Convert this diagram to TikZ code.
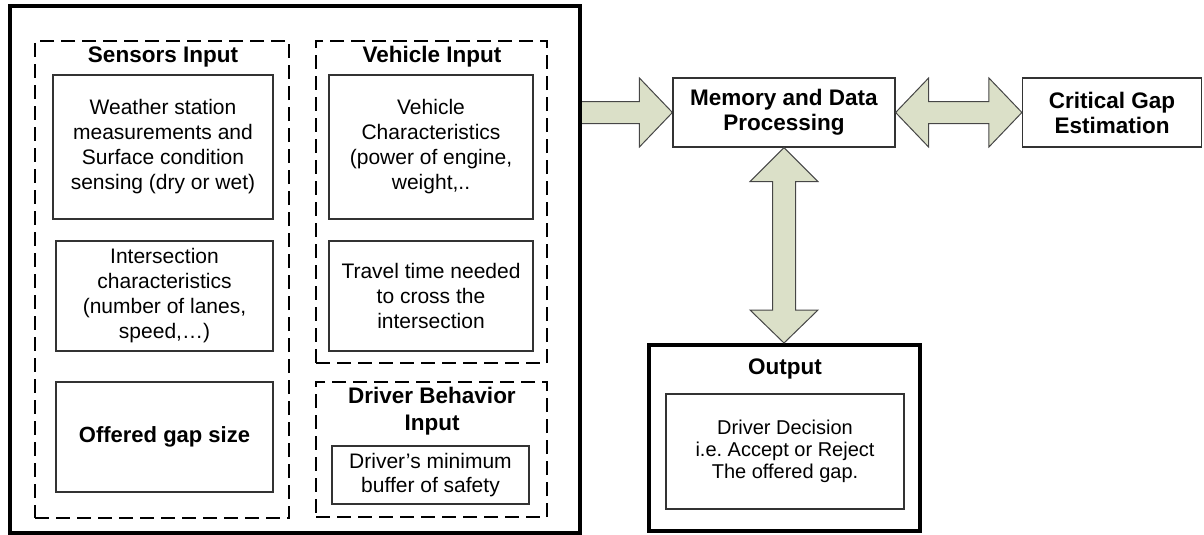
\documentclass[tikz,border=0pt]{standalone}
\usepackage{fontspec}
\setmainfont{Liberation Sans}
\usetikzlibrary{calc,backgrounds}
\definecolor{arrowfill}{RGB}{219,224,200}
\definecolor{arrowline}{RGB}{70,70,70}
\frenchspacing
\begin{document}
\begin{tikzpicture}[x=1pt,y=-1pt,
  thinbox/.style={draw=black!80, line width=1.2pt, inner sep=0pt, align=center, font=\fontsize{21}{25}\selectfont},
  thickbox/.style={draw=black, line width=4pt, inner sep=0pt},
  dashbox/.style={draw=black, line width=2.7pt, dash pattern=on 14pt off 7pt, inner sep=0pt},
  titletext/.style={font=\bfseries\fontsize{22.5}{27}\selectfont, align=center, inner sep=0pt},
  bigarrow/.style={fill=arrowfill, draw=arrowline, line width=1pt, line join=miter}]
\useasboundingbox (0,0) rectangle (1204,535);

% containers
\node[thickbox, minimum width=570, minimum height=527] (outer) at (295,269.5) {};
\node[dashbox, minimum width=254, minimum height=477] (sens) at (162,279.5) {};
\node[dashbox, minimum width=231, minimum height=322] (veh) at (431.5,202) {};
\node[dashbox, minimum width=231, minimum height=135] (drv) at (431.5,449.5) {};

% titles
\node[titletext] (senst) at (163,57) {Sensors Input};
\node[titletext] (veht) at (432,57) {Vehicle Input};
\node[titletext] (drvt) at (432,411.5) {Driver Behavior\\Input};

% sensor boxes
\node[thinbox, minimum width=220, minimum height=144] (weather) at (163,147)
  {Weather station\\measurements and\\Surface condition\\sensing (dry or wet)};
\node[thinbox, minimum width=217, minimum height=110] (inters) at (164.5,296)
  {Intersection\\characteristics\\(number of lanes,\\speed,…)};
\node[thinbox, minimum width=217, minimum height=110, font=\bfseries\fontsize{22}{26}\selectfont] (offered) at (164.5,437)
  {Offered gap size};

% vehicle boxes
\node[thinbox, minimum width=204, minimum height=144] (vchar) at (431,147)
  {Vehicle\\Characteristics\\(power of engine,\\weight,..};
\node[thinbox, minimum width=204, minimum height=110] (travel) at (431,296)
  {Travel time needed\\to cross the\\intersection};

% driver box
\node[thinbox, minimum width=197, minimum height=58, font=\fontsize{21}{24}\selectfont] (dmin) at (430.5,475)
  {Driver’s minimum\\buffer of safety};

% right side
\node[thinbox, minimum width=222, minimum height=69, font=\bfseries\fontsize{22.5}{25}\selectfont] (mem) at (784,112.5)
  {Memory and Data\\Processing};
\node[thinbox, minimum width=179, minimum height=69, font=\bfseries\fontsize{22.5}{25}\selectfont] (crit) at (1112,112.5)
  {Critical Gap\\Estimation};

\node[thickbox, minimum width=271, minimum height=186] (output) at (784,438) {};
\node[titletext] (outt) at (785,369) {Output};
\node[thinbox, minimum width=238, minimum height=115, font=\fontsize{20}{22}\selectfont] (outin) at (785,451.5)
  {Driver Decision\\i.e. Accept or Reject\\The offered gap.};

% arrows
\begin{scope}[on background layer]
  \coordinate (a1st) at ($(mem.west)+(-33,-11)$);
  \coordinate (a1sb) at ($(mem.west)+(-33,11)$);
  \draw[bigarrow] ([xshift=-2pt]outer.east |- a1st) -- (a1st) -- ($(mem.west)+(-33,-34.5)$) -- (mem.west)
     -- ($(mem.west)+(-33,34.5)$) -- (a1sb) -- ([xshift=-2pt]outer.east |- a1sb) -- cycle;
\end{scope}

\draw[bigarrow] (mem.east) -- ($(mem.east)+(33,-34.5)$) -- ($(mem.east)+(33,-11)$)
   -- ($(crit.west)+(-33,-11)$) -- ($(crit.west)+(-33,-34.5)$) -- (crit.west)
   -- ($(crit.west)+(-33,34.5)$) -- ($(crit.west)+(-33,11)$) -- ($(mem.east)+(33,11)$)
   -- ($(mem.east)+(33,34.5)$) -- cycle;

\draw[bigarrow] (mem.south) -- ($(mem.south)+(34,34)$) -- ($(mem.south)+(11.5,34)$)
   -- ($(output.north)+(11.5,-33)$) -- ($(output.north)+(34,-33)$) -- (output.north)
   -- ($(output.north)+(-34,-33)$) -- ($(output.north)+(-11.5,-33)$) -- ($(mem.south)+(-11.5,34)$)
   -- ($(mem.south)+(-34,34)$) -- cycle;
\end{tikzpicture}
\end{document}
